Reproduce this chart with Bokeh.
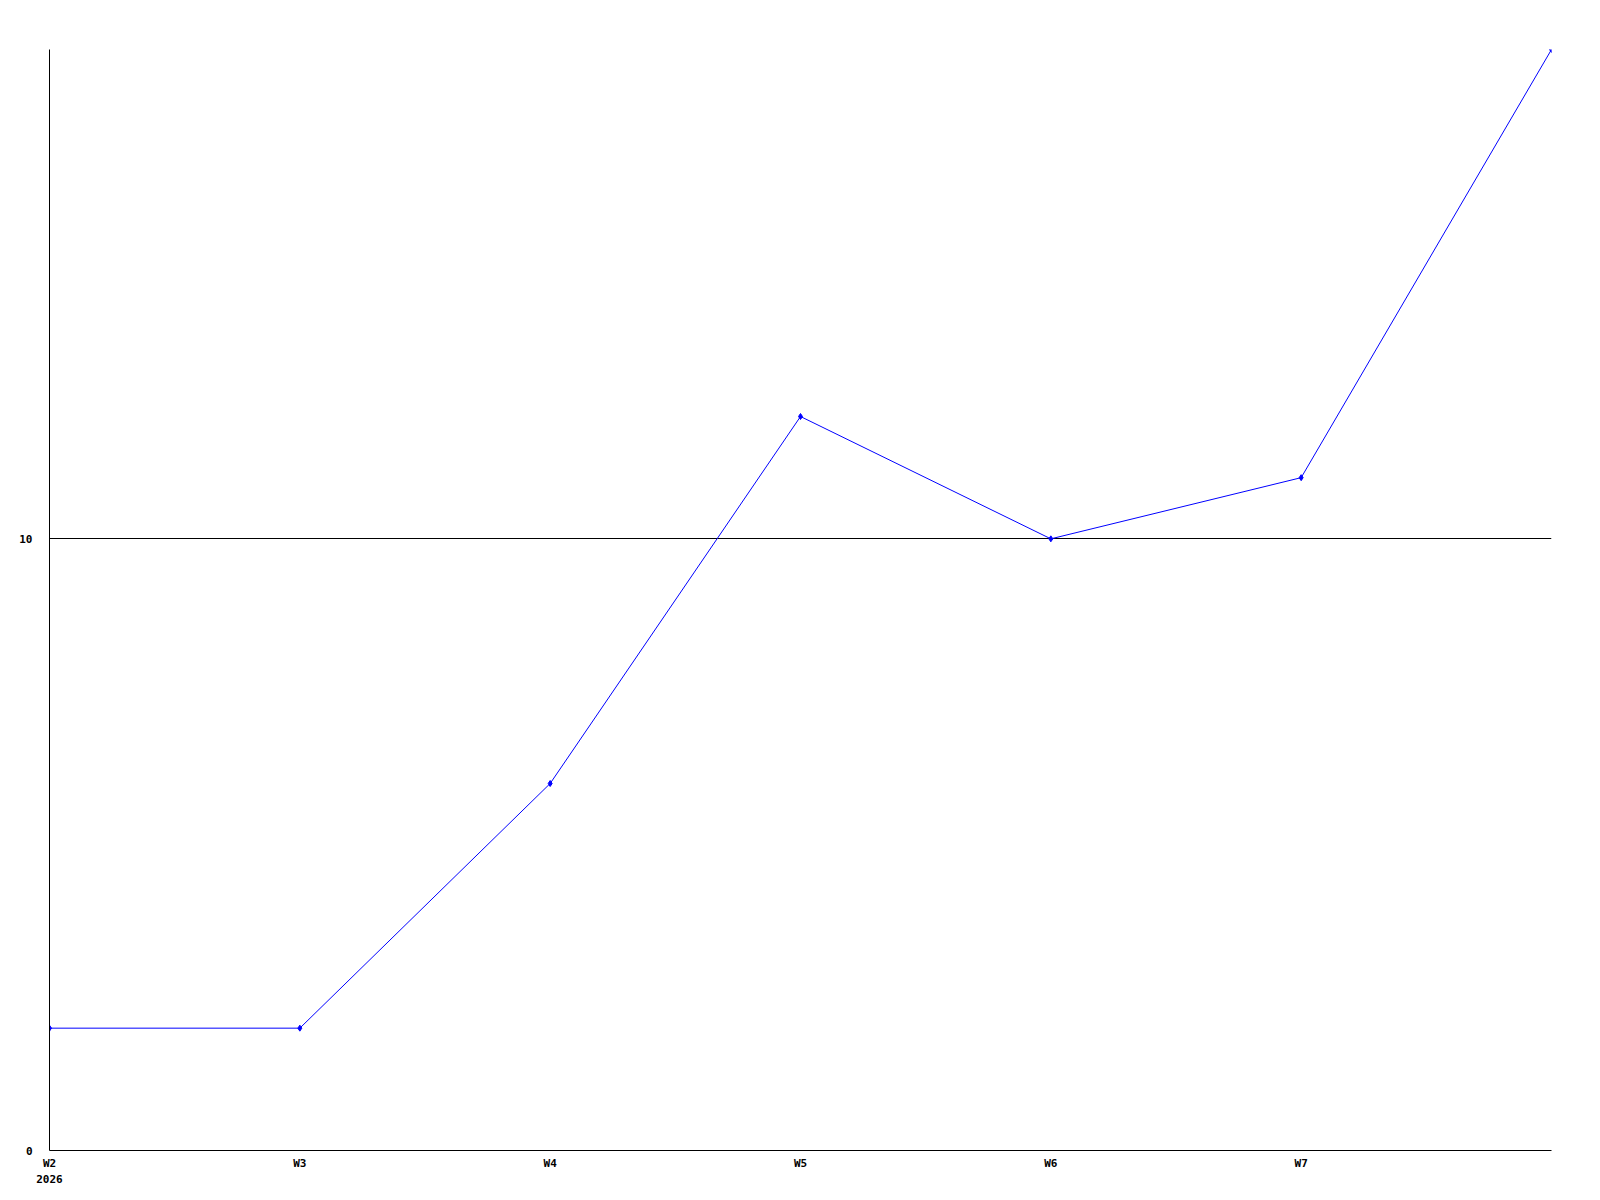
from bokeh.plotting import figure
from bokeh.models import Range1d, FixedTicker, ColumnDataSource
from bokeh.embed import file_html
from bokeh.resources import INLINE

weeks = ["W2", "W3", "W4", "W5", "W6", "W7", "W8"]
values = [2, 2, 6, 12, 10, 11, 18]
x_tick_labels = ["W2\n2026", "W3", "W4", "W5", "W6", "W7"]
y_ticks = [0, 10]

xs = list(range(len(weeks)))
src = ColumnDataSource(dict(x=xs, y=values))

p = figure(width=1592, height=1192, output_backend="svg", toolbar_location=None,
           x_range=Range1d(0, len(weeks) - 1), y_range=Range1d(0, 18),
           min_border_left=49, min_border_top=49, min_border_right=41, min_border_bottom=42)
p.outline_line_color = None
p.background_fill_color = "white"
p.border_fill_color = "white"

p.line("x", "y", source=src, line_color="#0000ff", line_width=1)
p.scatter("x", "y", source=src, marker="diamond", size=6, fill_color="#0000ff", line_color="#0000ff")

font = "DejaVu Sans Mono"
p.xaxis.ticker = FixedTicker(ticks=xs[:len(x_tick_labels)])
p.xaxis.major_label_overrides = {i: lab for i, lab in enumerate(x_tick_labels)}
p.yaxis.ticker = FixedTicker(ticks=y_ticks)
for ax in (p.xaxis[0], p.yaxis[0]):
    ax.major_tick_out = 0
    ax.major_tick_in = 0
    ax.minor_tick_out = 0
    ax.minor_tick_in = 0
    ax.axis_line_color = "black"
    ax.axis_line_width = 1
    ax.major_label_text_font = font
    ax.major_label_text_font_style = "bold"
    ax.major_label_text_font_size = "11px"
    ax.major_label_text_color = "black"
    ax.major_label_text_line_height = 1.3
p.xaxis.major_label_standoff = 6
p.yaxis.major_label_standoff = 17

p.xgrid.grid_line_color = None
p.ygrid.ticker = FixedTicker(ticks=[10])
p.ygrid.grid_line_color = "black"
p.ygrid.grid_line_alpha = 1.0
p.ygrid.grid_line_width = 1

open("out.html", "w").write(file_html(p, INLINE))
